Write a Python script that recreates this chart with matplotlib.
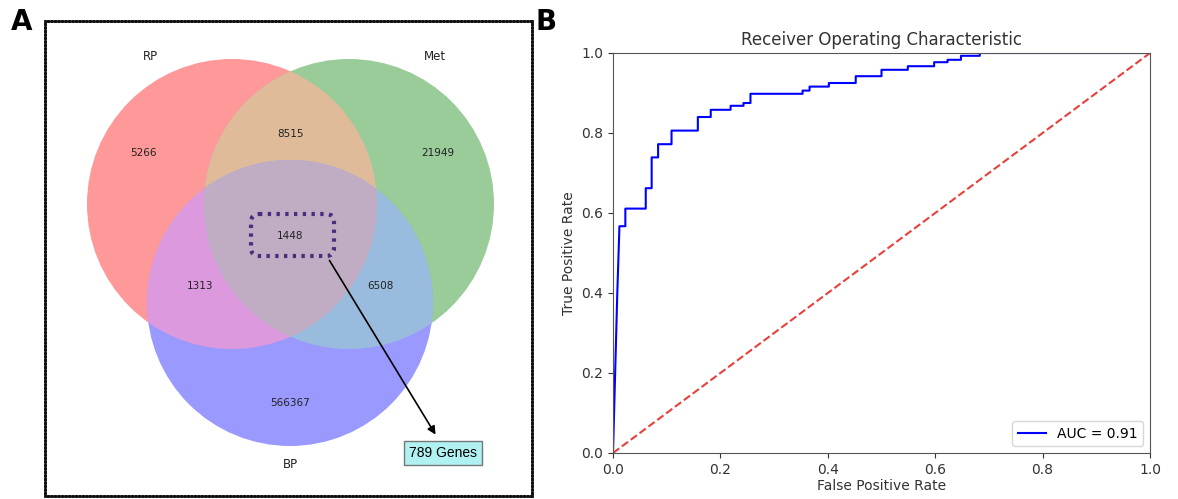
import numpy as np
import matplotlib.pyplot as plt
from matplotlib.patches import Circle, Polygon, FancyBboxPatch

# Venn data (region counts)
set_labels = ['RP', 'Met', 'BP']
region_names = ['RP', 'Met', 'RP&Met', 'BP', 'RP&BP', 'Met&BP', 'RP&Met&BP']
region_counts = [5266, 21949, 8515, 566367, 1313, 6508, 1448]
highlight_text = '789 Genes'

# ROC curve corner points
fpr = [0.0, 0.008, 0.012, 0.012, 0.023, 0.023, 0.061, 0.061, 0.072, 0.072,
       0.084, 0.084, 0.109, 0.109, 0.158, 0.158, 0.182, 0.182, 0.219, 0.219,
       0.243, 0.243, 0.256, 0.256, 0.353, 0.353, 0.366, 0.366, 0.402, 0.402,
       0.452, 0.452, 0.500, 0.500, 0.549, 0.549, 0.598, 0.598, 0.623, 0.623,
       0.648, 0.648, 0.683, 0.683, 1.0]
tpr = [0.0, 0.40, 0.567, 0.567, 0.567, 0.611, 0.611, 0.662, 0.662, 0.739,
       0.739, 0.772, 0.772, 0.806, 0.806, 0.840, 0.840, 0.858, 0.858, 0.868,
       0.868, 0.875, 0.875, 0.898, 0.898, 0.906, 0.906, 0.916, 0.916, 0.925,
       0.925, 0.942, 0.942, 0.958, 0.958, 0.967, 0.967, 0.977, 0.977, 0.983,
       0.983, 0.993, 0.993, 1.0, 1.0]
roc_auc = 0.91

fig = plt.figure(figsize=(11.78, 4.99), dpi=100)

# ---------- Panel A: Venn ----------
axA = fig.add_axes([45 / 1178, 3 / 499, 487 / 1178, 475 / 499])
axA.set_xlim(45, 532)
axA.set_ylim(496, 21)
axA.set_xticks([])
axA.set_yticks([])
for s in axA.spines.values():
    s.set_linewidth(1.8)
    s.set_linestyle((0, (1, 0.4)))
    s.set_color('#111111')

centers = [(232, 204), (349, 204), (290, 303)]
radii = [145, 145, 143]
single_cols = ['#ff9999', '#99cc99', '#9999ff']
pair_cols = {(0, 1): '#e0bb99', (0, 2): '#dd99dd', (1, 2): '#99bbdd'}
triple_col = '#c0adc3'


def inside(pts, i):
    c = np.array(centers[i])
    return np.hypot(pts[:, 0] - c[0], pts[:, 1] - c[1]) <= radii[i] + 1e-6


def circle_pts(i, n=1500):
    t = np.linspace(0, 2 * np.pi, n, endpoint=False)
    return np.column_stack([centers[i][0] + radii[i] * np.cos(t),
                            centers[i][1] + radii[i] * np.sin(t)])


def convex_region(idx):
    # intersection of circles is convex, so sort boundary points by angle
    pts = []
    for i in idx:
        p = circle_pts(i)
        mask = np.ones(len(p), bool)
        for j in idx:
            if j != i:
                mask &= inside(p, j)
        pts.append(p[mask])
    pts = np.vstack(pts)
    cen = pts.mean(axis=0)
    ang = np.arctan2(pts[:, 1] - cen[1], pts[:, 0] - cen[0])
    return pts[np.argsort(ang)]


for i in range(3):
    axA.add_patch(Circle(centers[i], radii[i], facecolor=single_cols[i], edgecolor='none'))
for (i, j), col in pair_cols.items():
    axA.add_patch(Polygon(convex_region([i, j]), closed=True, facecolor=col, edgecolor='none'))
axA.add_patch(Polygon(convex_region([0, 1, 2]), closed=True, facecolor=triple_col, edgecolor='none'))

label_pos = [(150, 57), (435, 57), (290, 465)]
for lab, (x, y) in zip(set_labels, label_pos):
    axA.text(x, y, lab, ha='center', va='center', fontsize=8.5, color='#222222')

count_pos = [(143, 153), (438, 153), (290, 134), (290, 403), (200, 286), (380, 286), (290, 236)]
for n, (x, y) in zip(region_counts, count_pos):
    axA.text(x, y, str(n), ha='center', va='center', fontsize=7.5, color='#222222')

axA.add_patch(FancyBboxPatch((251, 214), 83, 42, boxstyle='round,pad=0,rounding_size=8',
                             facecolor='none', edgecolor='#4a2d7f', linewidth=3,
                             linestyle=(0, (0.8, 1.3))))
axA.annotate('', xy=(437, 437), xytext=(328, 258),
             arrowprops=dict(arrowstyle='-|>', color='black', lw=1.2, mutation_scale=12))
axA.text(443, 453, highlight_text, ha='center', va='center', fontsize=10,
         family='Liberation Sans',
         bbox=dict(boxstyle='square,pad=0.35', facecolor='#b0f2f2', edgecolor='#777777', lw=1))

# ---------- Panel B: ROC ----------
axB = fig.add_axes([613 / 1178, 46 / 499, 537 / 1178, 400 / 499])
axB.plot(fpr, tpr, color='blue', lw=1.5, label='AUC = %0.2f' % roc_auc)
axB.plot([0, 1], [0, 1], linestyle='--', lw=1.5, color='#e8403a')
axB.set_xlim(0, 1)
axB.set_ylim(0, 1)
axB.set_title('Receiver Operating Characteristic', fontsize=12, color='#333333')
axB.set_xlabel('False Positive Rate', fontsize=10, color='#333333', labelpad=2)
axB.set_ylabel('True Positive Rate', fontsize=10, color='#333333')
axB.tick_params(labelsize=10, colors='#333333')
for s in axB.spines.values():
    s.set_color('#555555')
axB.legend(loc='lower right', fontsize=10)

fig.text(22 / 1178, 1 - 22 / 499, 'A', fontsize=20, fontweight='bold', ha='center', va='center')
fig.text(546 / 1178, 1 - 22 / 499, 'B', fontsize=20, fontweight='bold', ha='center', va='center')

fig.savefig('out.png', dpi=100)
